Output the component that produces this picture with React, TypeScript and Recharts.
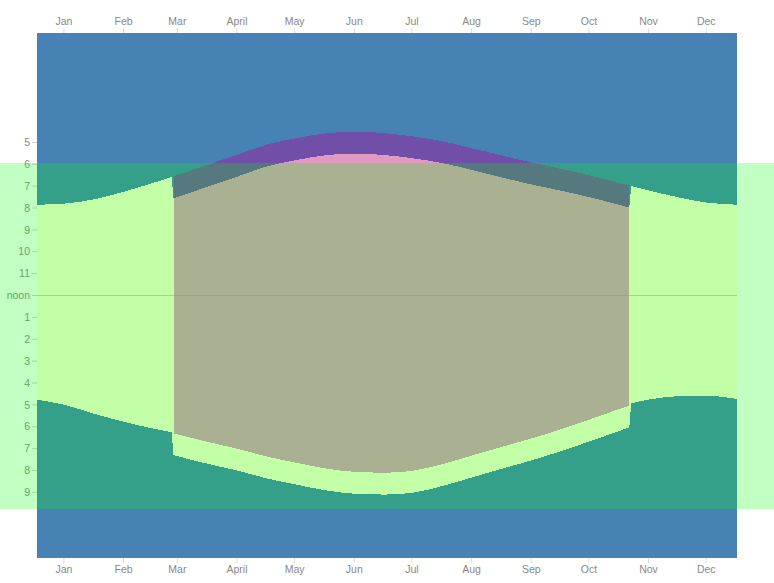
import {
	Area,
	CartesianGrid,
	ComposedChart,
	ReferenceArea,
	ReferenceLine,
	XAxis,
	YAxis,
} from 'recharts'

const CHART_W = 774
const CHART_H = 583

// day of year (0 = Jan 1), sunrise / sunset in standard time (hours)
const days = [0, 14, 31, 45, 59, 70, 71, 90, 104, 120, 134, 151, 165, 181, 195, 212, 226, 243, 257, 273, 287, 308, 309, 318, 334, 348, 364]
const sunrise = [7.85, 7.8, 7.58, 7.26, 6.89, 6.59, 6.56, 5.99, 5.57, 5.09, 4.82, 4.58, 4.51, 4.58, 4.72, 4.97, 5.26, 5.63, 5.92, 6.22, 6.5, 6.98, 7.0, 7.2, 7.52, 7.75, 7.85]
const sunset = [16.76, 16.99, 17.44, 17.77, 18.06, 18.25, 18.3, 18.72, 19.0, 19.37, 19.63, 19.92, 20.06, 20.1, 20.02, 19.68, 19.32, 18.89, 18.54, 18.1, 17.68, 17.03, 16.93, 16.76, 16.6, 16.58, 16.73]

// daylight saving window
const dstStart = 71
const dstEnd = 308

const monthDays = [14, 45, 73, 104, 134, 165, 195, 226, 257, 287, 318, 348]
const monthLabels = ['Jan', 'Feb', 'Mar', 'April', 'May', 'Jun', 'Jul', 'Aug', 'Sep', 'Oct', 'Nov', 'Dec']

const hourTicks = [5, 6, 7, 8, 9, 10, 11, 12, 13, 14, 15, 16, 17, 18, 19, 20, 21]

// band of "waking hours"
const bandStart = 5.92
const bandEnd = 21.78

const data = days.map((day, i) => {
	const dst = day >= dstStart && day <= dstEnd
	const shift = dst ? 1 : 0
	const clock = [sunrise[i] + shift, sunset[i] + shift]
	const atSwitch = day === dstStart - 1 || day === dstStart || day === dstEnd || day === dstEnd + 1
	return {
		day,
		clockPre: day < dstStart ? clock : null,
		clockDst: dst ? clock : null,
		clockPost: day > dstEnd ? clock : null,
		clockSwitch: atSwitch ? clock : null,
		standard: dst ? [sunrise[i], sunset[i]] : null,
	}
})

const monthLabel = (d: number) => monthLabels[monthDays.indexOf(d)] ?? ''
const hourLabel = (h: number) => (h === 12 ? 'noon' : String(h > 12 ? h - 12 : h))

const tickStyle = { fill: '#888', fontSize: 10.5, fontFamily: 'Liberation Sans, Arial, sans-serif' }

const Band = (props: any) => (
	<rect
		x={0}
		y={props.y}
		width={CHART_W}
		height={props.height}
		fill="#00ff00"
		fillOpacity={0.24}
		shapeRendering="crispEdges"
	/>
)

const clockKeys: [string, 'monotone' | 'linear'][] = [
	['clockPre', 'monotone'],
	['clockDst', 'monotone'],
	['clockPost', 'monotone'],
	['clockSwitch', 'linear'],
]

export default function App() {
	return (
		<div style={{ position: 'absolute', left: 0, top: 0, width: CHART_W, height: CHART_H }}>
			<ComposedChart
				width={CHART_W}
				height={CHART_H}
				data={data}
				margin={{ top: 0, right: 0, bottom: 0, left: 0 }}
			>
				<CartesianGrid
					xAxisId="bottom"
					yAxisId="left"
					fill="#4682b4"
					horizontal={false}
					vertical={false}
				/>
				<XAxis
					xAxisId="top"
					orientation="top"
					type="number"
					dataKey="day"
					domain={[0, 364]}
					ticks={monthDays}
					tickFormatter={monthLabel}
					interval={0}
					height={33}
					axisLine={false}
					tickLine={{ stroke: '#ddd' }}
					tickSize={5}
					tickMargin={3}
					tick={tickStyle}
				/>
				<XAxis
					xAxisId="bottom"
					orientation="bottom"
					type="number"
					dataKey="day"
					domain={[0, 364]}
					ticks={monthDays}
					tickFormatter={monthLabel}
					interval={0}
					height={25}
					axisLine={false}
					tickLine={{ stroke: '#ddd' }}
					tickSize={5}
					tickMargin={3}
					tick={tickStyle}
				/>
				<YAxis
					yAxisId="left"
					orientation="left"
					type="number"
					domain={[0, 24]}
					reversed
					ticks={hourTicks}
					tickFormatter={hourLabel}
					interval={0}
					width={37}
					axisLine={false}
					tickLine={{ stroke: '#ccc' }}
					tickSize={5}
					tickMargin={2}
					tick={tickStyle}
				/>
				<YAxis
					yAxisId="right"
					orientation="right"
					type="number"
					domain={[0, 24]}
					reversed
					ticks={hourTicks}
					tickFormatter={hourLabel}
					interval={0}
					width={37}
					axisLine={false}
					tickLine={{ stroke: '#ccc' }}
					tickSize={5}
					tickMargin={2}
					tick={tickStyle}
				/>
				{clockKeys.map(([key, curve]) => (
					<Area
						key={key}
						xAxisId="bottom"
						yAxisId="left"
						dataKey={key}
						type={curve}
						fill="#ffffdc"
						fillOpacity={1}
						stroke="none"
						shapeRendering="crispEdges"
						dot={false}
						activeDot={false}
						isAnimationActive={false}
					/>
				))}
				<Area
					xAxisId="bottom"
					yAxisId="left"
					dataKey="standard"
					type="monotone"
					fill="#b10096"
					fillOpacity={0.4}
					stroke="none"
					shapeRendering="crispEdges"
					dot={false}
					activeDot={false}
					isAnimationActive={false}
				/>
				<ReferenceLine
					xAxisId="bottom"
					yAxisId="left"
					y={12}
					stroke="#888"
					strokeOpacity={0.4}
				/>
				<ReferenceArea
					xAxisId="bottom"
					yAxisId="left"
					y1={bandStart}
					y2={bandEnd}
					ifOverflow="visible"
					shape={Band}
					zIndex={3000}
				/>
			</ComposedChart>
		</div>
	)
}
